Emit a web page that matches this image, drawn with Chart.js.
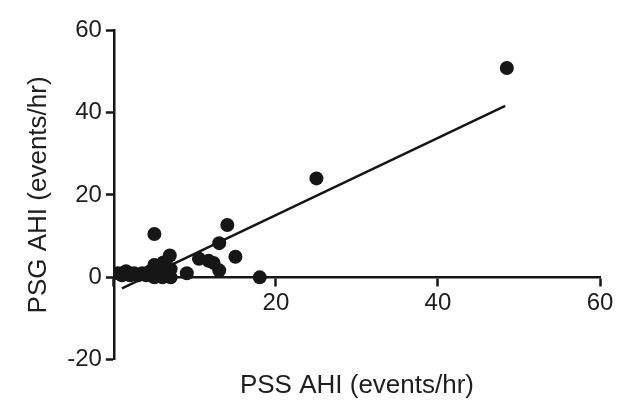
<!DOCTYPE html>
<html>
<head>
<meta charset="utf-8">
<script src="https://cdn.jsdelivr.net/npm/chart.js@4/dist/chart.umd.min.js"></script>
<style>
  html, body { margin: 0; padding: 0; background: #fff; }
  #wrap { width: 634px; height: 405px; }
</style>
</head>
<body>
<div id="wrap"><canvas id="c" width="634" height="405"></canvas></div>
<script>
// PSS vs PSG AHI scatter with linear fit

const pssAHI = [0.5, 1, 1.5, 2, 2.5, 3, 3.5, 4, 4.5, 5, 5, 5.5, 6, 6, 6.5, 7, 7, 6.1, 5, 6.9,
                5, 9, 10.5, 11.7, 12.3, 13, 13, 14, 15, 18, 25, 48.5];
const psgAHI = [1, 0.5, 1.5, 0.5, 1, 0.5, 1, 0.5, 1.5, 0, 2, 1, 0, 2.5, 1, 0, 2, 3.6, 3, 5.3,
                10.5, 1, 4.5, 4, 3.5, 1.7, 8.3, 12.7, 5, 0, 24, 50.8];

// regression line end points
const fitX = [1, 48.3];
const fitY = [-2.7, 41.6];

const xTicks = [0, 20, 40, 60];
const yTicks = [-20, 0, 20, 40, 60];

const ink = '#161616';
const txt = '#1e1e1e';
const font = { family: '"Liberation Sans", Arial, sans-serif', size: 24 };
const titleFont = { family: '"Liberation Sans", Arial, sans-serif', size: 26 };

new Chart(document.getElementById('c'), {
  type: 'scatter',
  data: {
    datasets: [
      {
        data: pssAHI.map((x, i) => ({ x, y: psgAHI[i] })),
        backgroundColor: ink,
        borderWidth: 0,
        pointRadius: 7,
        order: 2
      },
      {
        type: 'line',
        data: fitX.map((x, i) => ({ x, y: fitY[i] })),
        borderColor: ink,
        borderWidth: 2.5,
        pointRadius: 0,
        fill: false,
        order: 1
      }
    ]
  },
  options: {
    responsive: false,
    animation: false,
    layout: { padding: { top: 30, right: 34, left: 23, bottom: 4 } },
    plugins: { legend: { display: false }, tooltip: { enabled: false } },
    scales: {
      x: {
        type: 'linear',
        position: { y: 0 },
        min: 0, max: 60,
        afterBuildTicks: (s) => { s.ticks = xTicks.map(v => ({ value: v })); },
        ticks: { color: txt, font, padding: 4, callback: (v) => v === 0 ? '' : v },
        grid: { drawOnChartArea: false, tickLength: 8, tickWidth: 2.5, color: ink },
        border: { color: ink, width: 2.5 }
      },
      x2: {
        type: 'linear',
        position: 'bottom',
        min: 0, max: 60,
        ticks: { display: false },
        grid: { display: false },
        border: { display: false },
        title: { display: true, text: 'PSS AHI (events/hr)', color: txt, font: titleFont, padding: { top: 2, bottom: 0 } }
      },
      y: {
        type: 'linear',
        min: -20, max: 60,
        afterBuildTicks: (s) => { s.ticks = yTicks.map(v => ({ value: v })); },
        ticks: { color: txt, font, padding: 4 },
        grid: { drawOnChartArea: false, tickLength: 8, tickWidth: 2.5, color: ink },
        border: { color: ink, width: 2.5 },
        title: { display: true, text: 'PSG AHI (events/hr)', color: txt, font: titleFont, padding: { top: 0, bottom: 9 } }
      }
    }
  }
});
</script>
</body>
</html>
